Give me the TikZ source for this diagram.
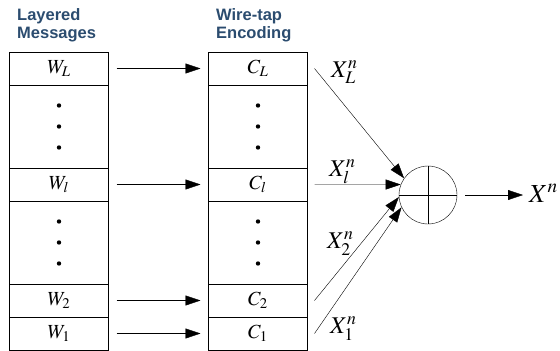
\documentclass[tikz,border=0pt]{standalone}
\usepackage{mathptmx}
\usepackage{fontspec}
\setsansfont{Liberation Sans}
\usetikzlibrary{arrows.meta,positioning}
\definecolor{Slate}{HTML}{2B4C6F}

\begin{document}
\begin{tikzpicture}[x=1pt,y=-1pt,>={Triangle[length=15pt,width=10pt]},
  cell/.style={draw,minimum width=99pt,minimum height=33pt,outer sep=0pt,inner sep=0pt,font=\fontsize{20}{24}\selectfont},
  gap/.style={cell,minimum height=83pt},
  head/.style={align=left,anchor=north west,inner sep=0pt,text=Slate,font=\fontsize{16.5}{18}\selectfont\sffamily\bfseries},
  lab/.style={anchor=base west,inner sep=0pt,font=\fontsize{24}{28}\selectfont}]
\useasboundingbox (0,0) rectangle (560,351);
\node[head](hw) at (17,8) {Layered\\Messages};
\node[head](hc) at (216,8) {Wire-tap\\Encoding};
% layered messages
\node[cell](wL) at (59,68.5) {$W_L$};
\node[gap,below=0pt of wL](wA) {};
\node[cell,below=0pt of wA](wl) {$W_l$};
\node[gap,below=0pt of wl](wB) {};
\node[cell,below=0pt of wB](w2) {$W_2$};
\node[cell,below=0pt of w2](w1) {$W_1$};
% wire-tap encoding
\node[cell,right=100pt of wL](cL) {$C_L$};
\node[gap,below=0pt of cL](cA) {};
\node[cell,below=0pt of cA](cl) {$C_l$};
\node[gap,below=0pt of cl](cB) {};
\node[cell,below=0pt of cB](c2) {$C_2$};
\node[cell,below=0pt of c2](c1) {$C_1$};
\foreach \c in {wA,wB,cA,cB}{\foreach \d in {-21,0,21}{\fill([yshift=\d pt]\c.center) circle (2.2);}}
\foreach \p/\q in {wL/cL,wl/cl,w2/c2,w1/c1}{\draw[->,shorten <=8pt,shorten >=8pt](\p)--(\q);}
% combiner
\node[circle,draw,minimum size=58pt,inner sep=0pt](xor) at (428,195) {};
\draw (xor.north)--(xor.south) (xor.west)--(xor.east);
\foreach \c/\a in {cL/145,cl/159,c2/184,c1/205}{\draw[->]([xshift=7pt]\c.east)--(xor.\a);}
\node[lab](xL) at (331,77) {$X_L^n$};
\node[lab](xl) at (329,176) {$X_l^n$};
\node[lab](x2) at (327,248) {$X_2^n$};
\node[lab](x1) at (330,333) {$X_1^n$};
\node[lab,font=\fontsize{26}{30}\selectfont](xn) at (529,202) {$X^n$};
\draw[->,shorten <=8pt,shorten >=6pt](xor.east)--(xor.east-|xn.west);
\end{tikzpicture}
\end{document}
